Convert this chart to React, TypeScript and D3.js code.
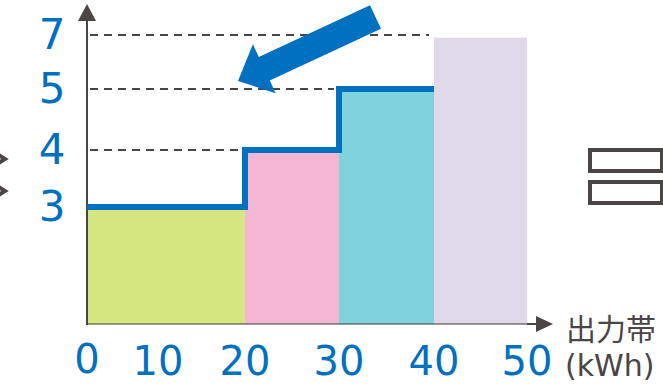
import React from "react";
import * as d3 from "d3";

// ---- data ----
const bandStarts = [0, 20, 30, 40];
const bandEnds = [20, 30, 40, 50];
const bandLevels = [3, 4, 5, 6.9];
const bandColors = ["#d6e681", "#f4b6d2", "#80d3dc", "#e0d9ea"];
const stepX = [0, 20, 30, 40];
const stepLevels = [3, 4, 5, 5];
const dashedLevels = [4, 5, 7];
const dashedEnds = [20, 30, 40];
const yTicks = [3, 4, 5, 7];
const xTicks = [0, 10, 20, 30, 40, 50];
const xAxisTitle = ["出力帯", "(kWh)"];

const W = 663;
const H = 385;
const BLUE = "#0070c0";
const GRAY = "#4b4545";

export default function App() {
  const x = d3
    .scaleLinear()
    .domain([0, 10, 20, 30, 40, 50])
    .range([87, 158, 245, 339, 434, 527]);
  const y = d3
    .scaleLinear()
    .domain([0, 3, 4, 5, 7])
    .range([324, 207, 150, 89, 35]);

  const stepLine = d3
    .line<number>()
    .x((_, i) => x(stepX[i]))
    .y((d) => y(d))
    .curve(d3.curveStepAfter);

  // big annotation arrow (tail -> tip)
  const tail: [number, number] = [375.5, 17];
  const tip: [number, number] = [238, 81];
  const shaftW = 26;
  const headW = 54;
  const headL = 29;
  const dx = tip[0] - tail[0];
  const dy = tip[1] - tail[1];
  const len = Math.hypot(dx, dy);
  const ux = dx / len;
  const uy = dy / len;
  const nx = -uy;
  const ny = ux;
  const bx = tip[0] - ux * headL;
  const by = tip[1] - uy * headL;
  const arrowPts: [number, number][] = [
    [tail[0] + (nx * shaftW) / 2, tail[1] + (ny * shaftW) / 2],
    [bx + (nx * shaftW) / 2, by + (ny * shaftW) / 2],
    [bx + (nx * headW) / 2, by + (ny * headW) / 2],
    tip,
    [bx - (nx * headW) / 2, by - (ny * headW) / 2],
    [bx - (nx * shaftW) / 2, by - (ny * shaftW) / 2],
    [tail[0] - (nx * shaftW) / 2, tail[1] - (ny * shaftW) / 2],
  ];
  const arrowPath = "M" + arrowPts.map((p) => p.join(",")).join("L") + "Z";

  const axisY = y(0);
  const axisX = x(0);
  const xAxisEnd = 553;

  return (
    <svg
      width={W}
      height={H}
      style={{ position: "absolute", left: 0, top: 0, background: "#fff" }}
    >
      {/* left chevrons (cropped) */}
      {[159, 191].map((cy, i) => (
        <polyline
          key={i}
          points={`-6,${cy - 7} 5,${cy} -6,${cy + 7}`}
          fill="none"
          stroke={GRAY}
          strokeWidth={4}
        />
      ))}

      {/* dashed guide lines */}
      {dashedLevels.map((lv, i) => (
        <line
          key={lv}
          x1={axisX + 3}
          x2={x(dashedEnds[i]) - 5}
          y1={y(lv)}
          y2={y(lv)}
          stroke={GRAY}
          strokeWidth={2}
          strokeDasharray="8,6"
        />
      ))}

      {/* bars */}
      {bandStarts.map((s, i) => (
        <rect
          key={s}
          x={x(s)}
          y={y(bandLevels[i])}
          width={x(bandEnds[i]) - x(s)}
          height={axisY - y(bandLevels[i])}
          fill={bandColors[i]}
        />
      ))}

      {/* x axis */}
      <line
        x1={axisX}
        x2={x(50)}
        y1={axisY}
        y2={axisY}
        stroke={GRAY}
        strokeWidth={2}
        strokeOpacity={0.55}
      />
      <line
        x1={x(50)}
        x2={xAxisEnd - 14}
        y1={axisY}
        y2={axisY}
        stroke={GRAY}
        strokeWidth={2}
      />
      <path
        d={`M${xAxisEnd},${axisY} L${xAxisEnd - 17},${axisY - 8} L${xAxisEnd - 17},${axisY + 8}Z`}
        fill={GRAY}
      />

      {/* y axis */}
      <line
        x1={axisX}
        x2={axisX}
        y1={axisY + 1}
        y2={18}
        stroke={GRAY}
        strokeWidth={2}
      />
      <path
        d={`M${axisX},4 L${axisX - 9},21 L${axisX + 9},21Z`}
        fill={GRAY}
      />

      {/* step line */}
      <path
        d={stepLine(stepLevels) || ""}
        fill="none"
        stroke={BLUE}
        strokeWidth={6}
        strokeLinejoin="miter"
      />

      {/* annotation arrow */}
      <path d={arrowPath} fill={BLUE} />

      {/* y tick labels */}
      {yTicks.map((t) => (
        <text
          key={t}
          x={52}
          y={y(t) + 14}
          textAnchor="middle"
          fontFamily="DejaVu Sans"
          fontSize={42}
          fill={BLUE}
        >
          {t}
        </text>
      ))}

      {/* x tick labels */}
      {xTicks.map((t) => (
        <text
          key={t}
          x={x(t)}
          y={t === 0 ? 373 : 375}
          textAnchor="middle"
          fontFamily="DejaVu Sans"
          fontSize={40}
          fill={BLUE}
        >
          {t}
        </text>
      ))}

      {/* x axis title */}
      <text
        x={566}
        y={340}
        fontFamily="Noto Sans CJK JP"
        fontSize={30}
        fill={GRAY}
      >
        {xAxisTitle[0]}
      </text>
      <text
        x={565}
        y={376}
        fontFamily="DejaVu Sans"
        fontSize={30}
        fill={GRAY}
      >
        {xAxisTitle[1]}
      </text>

      {/* equals sign (cropped) */}
      <rect x={590} y={150} width={72} height={21} fill="none" stroke={GRAY} strokeWidth={4} />
      <rect x={590} y={182} width={72} height={21} fill="none" stroke={GRAY} strokeWidth={4} />
    </svg>
  );
}
